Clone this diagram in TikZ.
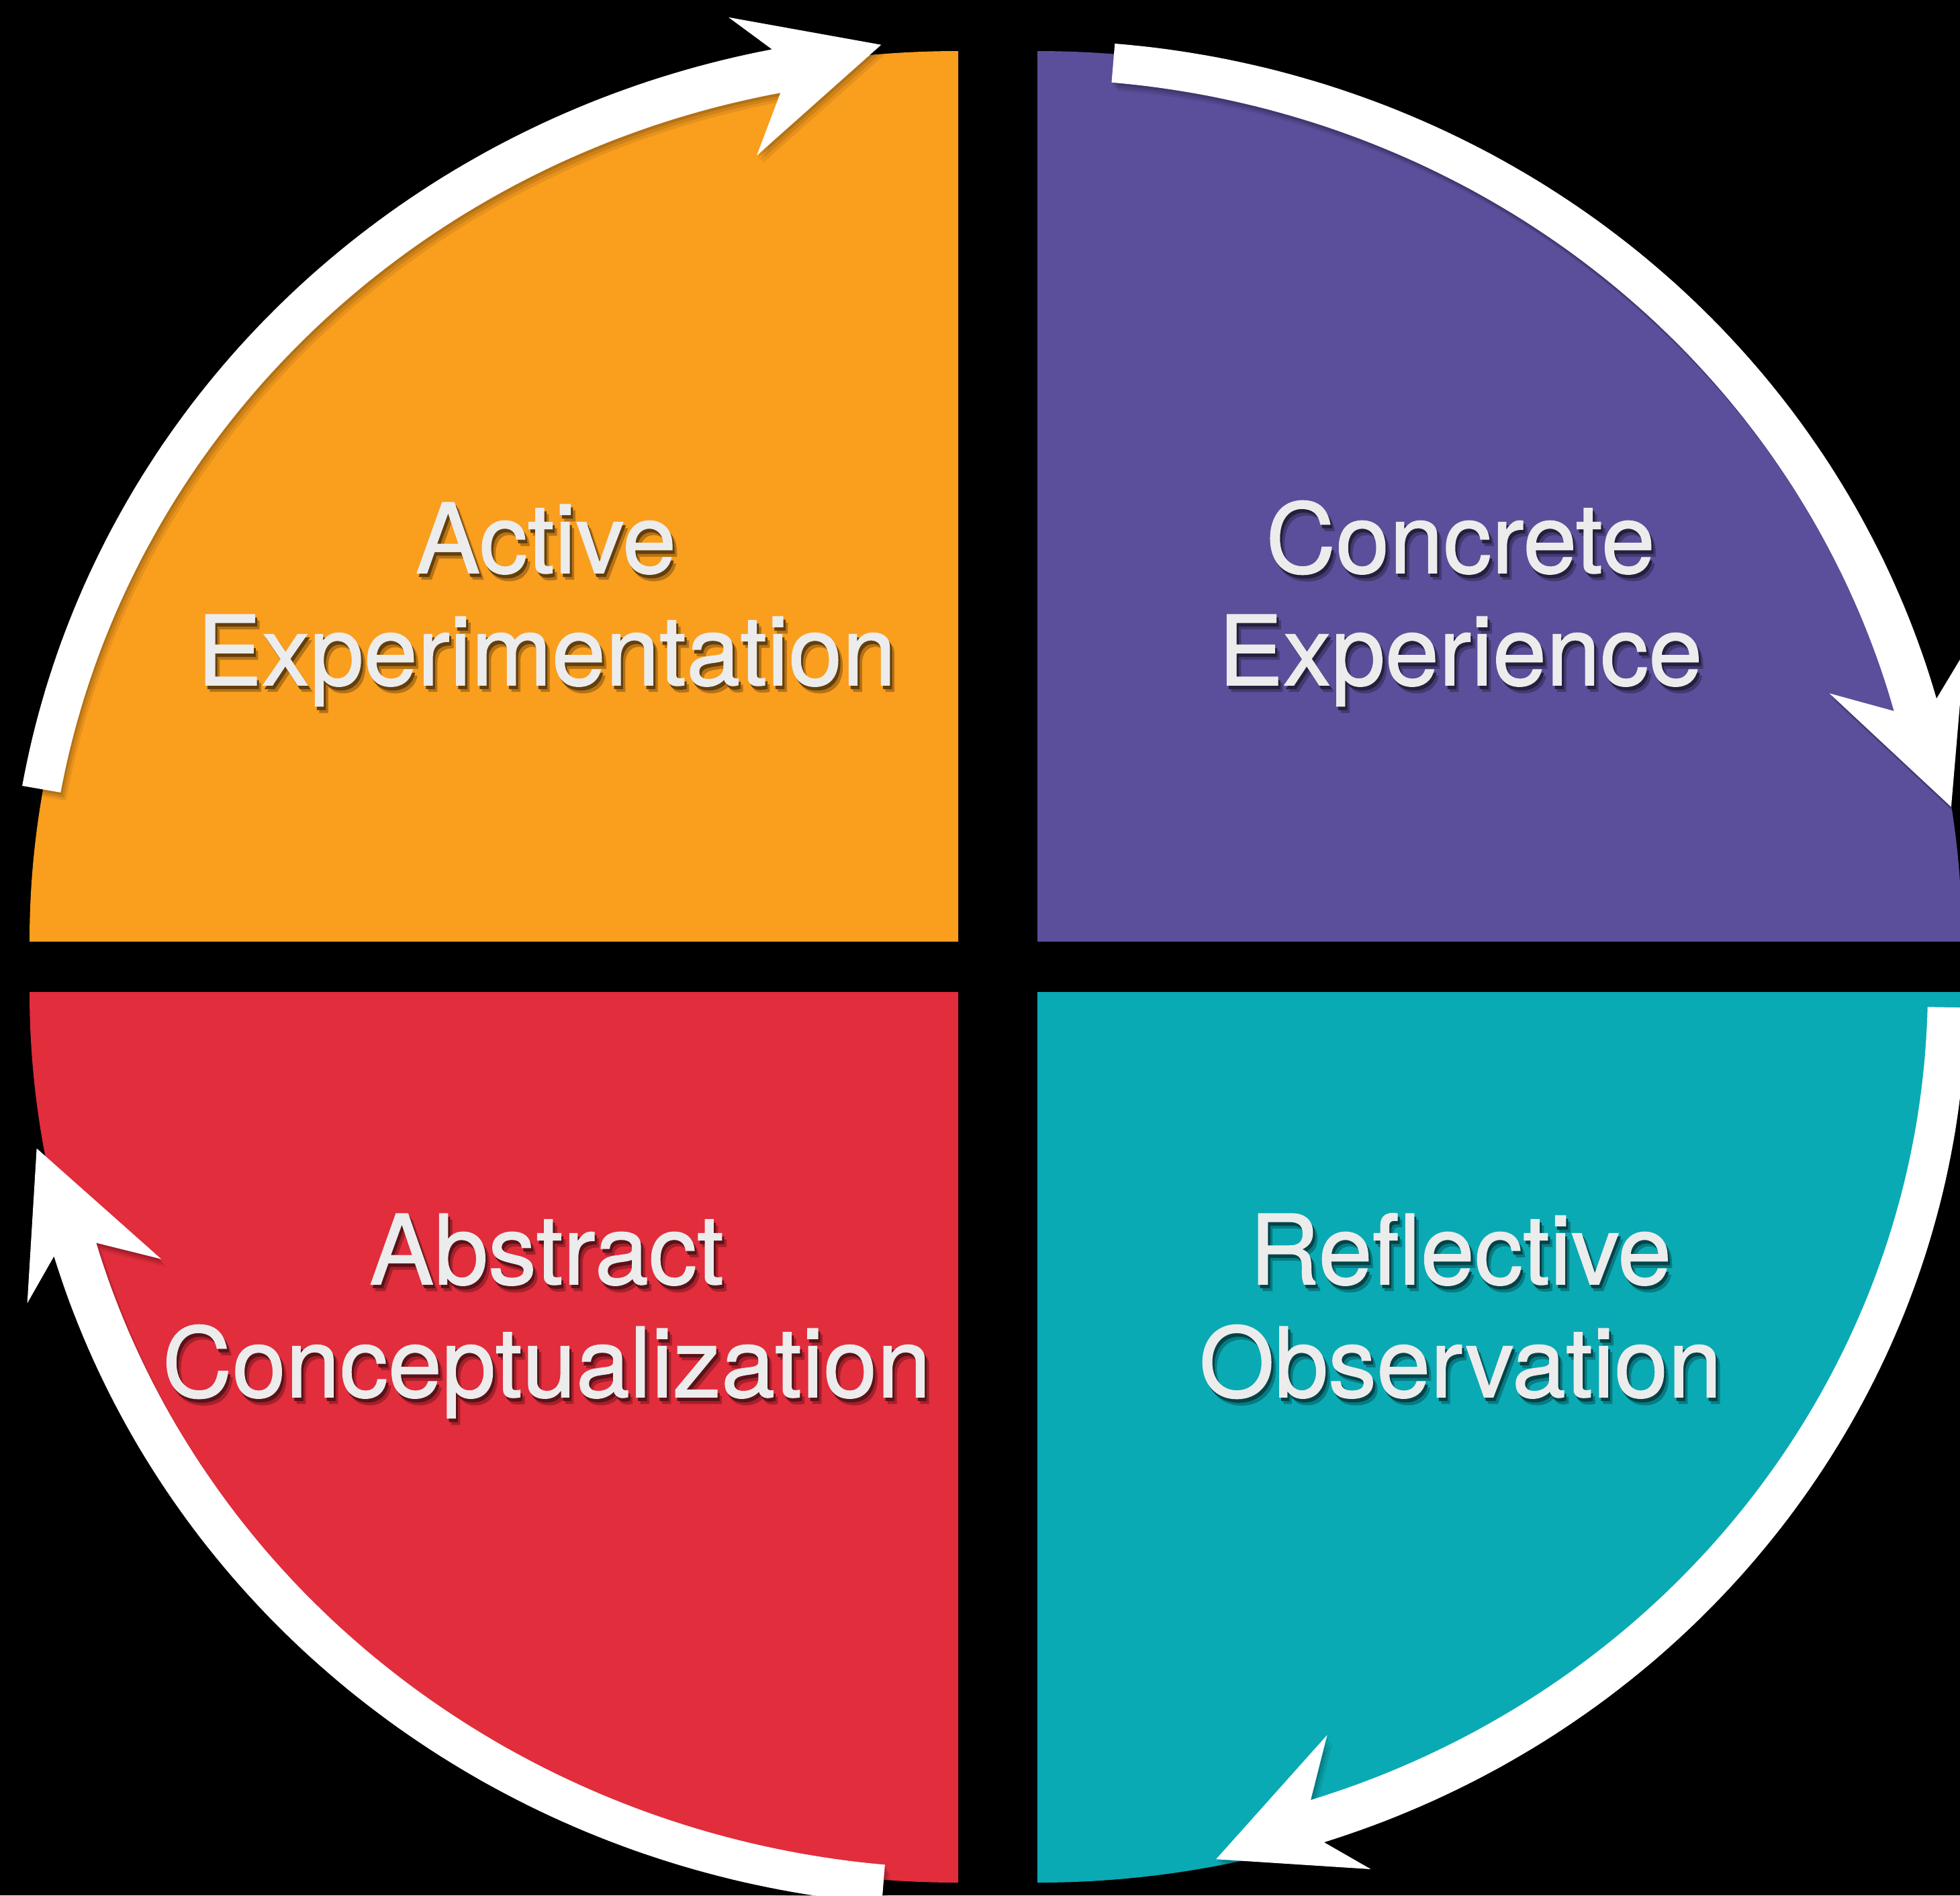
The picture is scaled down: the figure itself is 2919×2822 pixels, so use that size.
\documentclass[tikz,border=0pt]{standalone}
\usepackage{fontspec}
\setmainfont[FakeBold=1.0]{TeX Gyre Heros}
\definecolor{cOrange}{RGB}{250,158,30}
\definecolor{cPurple}{RGB}{91,79,155}
\definecolor{cRed}{RGB}{226,45,60}
\definecolor{cTeal}{RGB}{10,170,180}
\definecolor{cText}{RGB}{236,236,236}
\tikzset{
  lbl/.style={font=\fontsize{41}{48}\selectfont, text=cText, inner sep=0pt, anchor=base},
}
% #1 name, #2 cx, #3 cy, #4 rx, #5 ry, #6 t0, #7 t1, #8 rho0, #9 rho1
\newcommand{\cyclearrow}[9]{%
  \pgfmathsetmacro{\ka}{cos(#7)}%
  \pgfmathsetmacro{\kb}{sin(#7)}%
  \pgfmathsetmacro{\kmx}{#2+#9*#4*\ka}%
  \pgfmathsetmacro{\kmy}{#3+#9*#5*\kb}%
  \pgfmathsetmacro{\ktx}{-\kb}%
  \pgfmathsetmacro{\kty}{#5/#4*\ka}%
  \pgfmathsetmacro{\ktn}{sqrt(\ktx*\ktx+\kty*\kty)}%
  \pgfmathsetmacro{\ktx}{\ktx/\ktn}%
  \pgfmathsetmacro{\kty}{\kty/\ktn}%
  \coordinate (#1on) at ({\kmx+32.5*\kty},{\kmy-32.5*\ktx});%
  \coordinate (#1ob) at ({\kmx-55*\ktx+92*\kty},{\kmy-55*\kty-92*\ktx});%
  \coordinate (#1tip) at ({\kmx+160.5*\ktx+9*\kty},{\kmy+160.5*\kty-9*\ktx});%
  \coordinate (#1ib) at ({\kmx-52.5*\ktx-118*\kty},{\kmy-52.5*\kty+118*\ktx});%
  \coordinate (#1in) at ({\kmx-32.5*\kty},{\kmy+32.5*\ktx});%
  \foreach \sx/\sy/\op/\col in {8/12/0.08/black,5/8/0.10/black,2/4/0.12/black,0/0/1/white}{%
    \fill[fill=\col,fill opacity=\op,transform canvas={shift={(\sx,\sy)}}]
      plot[domain=#6:#7,samples=90]
        ({#2+((#8+(#9-#8)*(\x-#6)/(#7-#6))*#4+29+4*(\x-#6)/(#7-#6))*cos(\x)},
         {#3+((#8+(#9-#8)*(\x-#6)/(#7-#6))*#5+29+4*(\x-#6)/(#7-#6))*sin(\x)})
      -- (#1on) -- (#1ob) -- (#1tip) -- (#1ib) -- (#1in)
      -- plot[domain=#7:#6,samples=90]
        ({#2+((#8+(#9-#8)*(\x-#6)/(#7-#6))*#4-29-4*(\x-#6)/(#7-#6))*cos(\x)},
         {#3+((#8+(#9-#8)*(\x-#6)/(#7-#6))*#5-29-4*(\x-#6)/(#7-#6))*sin(\x)})
      -- cycle;
  }%
}
% text with a soft drop shadow; #1 background colour, #2 text
\newcommand{\shtext}[2]{%
  \makebox[0pt][l]{\kern1.9pt\raisebox{-2.7pt}{\textcolor{#1!72!black}{#2}}}%
  \makebox[0pt][l]{\kern0.9pt\raisebox{-1.5pt}{\textcolor{#1!40!black}{#2}}}%
  #2}
\begin{document}
\begin{tikzpicture}[x=0.1mm,y=-0.1mm]
\useasboundingbox (0,0) rectangle (2919,2822);
\clip (0,0) rectangle (2919,2822);
\fill[black] (0,0) rectangle (2919,2822);

% quadrants
\fill[cOrange] (1427,1402) -- (44,1402) arc[start angle=180,end angle=270,x radius=1383,y radius=1326] -- cycle;
\fill[cPurple] (1545,1402) -- (1545,76) arc[start angle=270,end angle=360,x radius=1377,y radius=1326] -- cycle;
\fill[cTeal] (1545,1477) -- (2922,1477) arc[start angle=0,end angle=90,x radius=1377,y radius=1326] -- cycle;
\fill[cRed] (1427,1477) -- (1427,2803) arc[start angle=90,end angle=180,x radius=1383,y radius=1326] -- cycle;

% cycle arrows
\cyclearrow{ae}{1427}{1402}{1383}{1326}{189.84}{258.68}{1.002}{0.997}
\cyclearrow{ce}{1545}{1402}{1377}{1326}{274.75}{344.37}{0.990}{0.986}
\cyclearrow{ro}{1545}{1477}{1377}{1326}{1.0}{72.0}{0.984}{0.979}
\cyclearrow{ac}{1427}{1477}{1383}{1326}{94.6}{163.1}{1.005}{0.994}

% labels
\node[lbl] (act) at (813,853) {\shtext{cOrange}{Active}};
\node[lbl] (exm) at (814,1020) {\shtext{cOrange}{Experimentation}};
\node[lbl] (con) at (2175,853) {\shtext{cPurple}{Concrete}};
\node[lbl] (exp) at (2175,1020) {\shtext{cPurple}{Experience}};
\node[lbl] (abs) at (814,1912) {\shtext{cRed}{Abstract}};
\node[lbl] (cpt) at (814,2080) {\shtext{cRed}{Conceptualization}};
\node[lbl] (ref) at (2175,1912) {\shtext{cTeal}{Reflective}};
\node[lbl] (obs) at (2175,2080) {\shtext{cTeal}{Observation}};
\end{tikzpicture}
\end{document}
